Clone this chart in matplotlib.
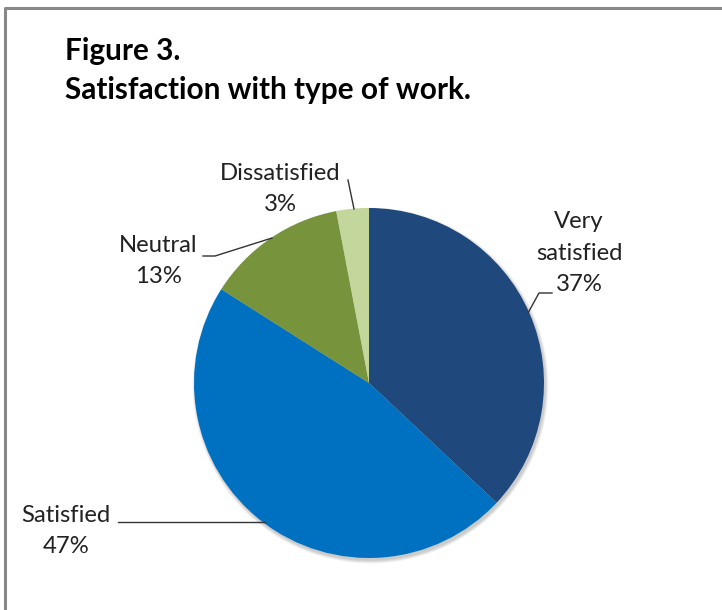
import matplotlib
matplotlib.use("Agg")
import matplotlib.pyplot as plt
from matplotlib.patches import Circle

categories = ["Very satisfied", "Satisfied", "Neutral", "Dissatisfied"]
values = [37, 47, 13, 3]
colors = ["#1F497D", "#0070C0", "#77933C", "#C3D69B"]
title_lines = ["Figure 3.", "Satisfaction with type of work."]

W, H = 722, 610
fig = plt.figure(figsize=(W / 100, H / 100), dpi=100)
ax = fig.add_axes([0, 0, 1, 1])

font = ["Lato", "DejaVu Sans"]

cx, cy, r = 369, H - 383, 175

# soft drop shadow under the pie
for k in range(6):
    ax.add_patch(Circle((cx + 1.5, cy - 2.5), r + 3 - k * 0.6, color="#000000",
                        alpha=0.035, lw=0, zorder=1))

wedges, _ = ax.pie(values, colors=colors, startangle=90, counterclock=False,
                   center=(cx, cy), radius=r, frame=True,
                   wedgeprops=dict(linewidth=0, zorder=2))
ax.set_xlim(0, W)
ax.set_ylim(0, H)
ax.set_aspect("equal")
ax.axis("off")

# outer frame (top and left edges visible)
ax.plot([5, 5, W + 5], [-5, H - 8, H - 8], color="#888888", lw=2.2, solid_capstyle="butt")

ax.text(65, H - 51, title_lines[0], fontsize=21.4, fontweight="bold", family=font,
        va="center", ha="left", color="#000000")
ax.text(65, H - 90, title_lines[1], fontsize=21.4, fontweight="bold", family=font,
        va="center", ha="left", color="#000000")

lab = dict(fontsize=17.2, family=font, color="#222222", ha="center", va="center",
           linespacing=1.6)
ax.text(579, H - 253, "Very\nsatisfied\n{}%".format(values[0]), **lab)
ax.text(66, H - 531, "Satisfied\n{}%".format(values[1]), **lab)
ax.text(158, H - 261, "Neutral\n{}%".format(values[2]), **lab)
ax.text(280, H - 189, "Dissatisfied\n{}%".format(values[3]), **lab)

lc = dict(color="#333333", lw=1.0)
ax.plot([552, 539, 528], [H - 293, H - 293, H - 313], **lc)
ax.plot([118, 265], [H - 522, H - 522], **lc)
ax.plot([203, 215, 272], [H - 256, H - 256, H - 238], **lc)
ax.plot([348, 354], [H - 180, H - 209], **lc)

fig.savefig("out.png", dpi=100, facecolor="white")
